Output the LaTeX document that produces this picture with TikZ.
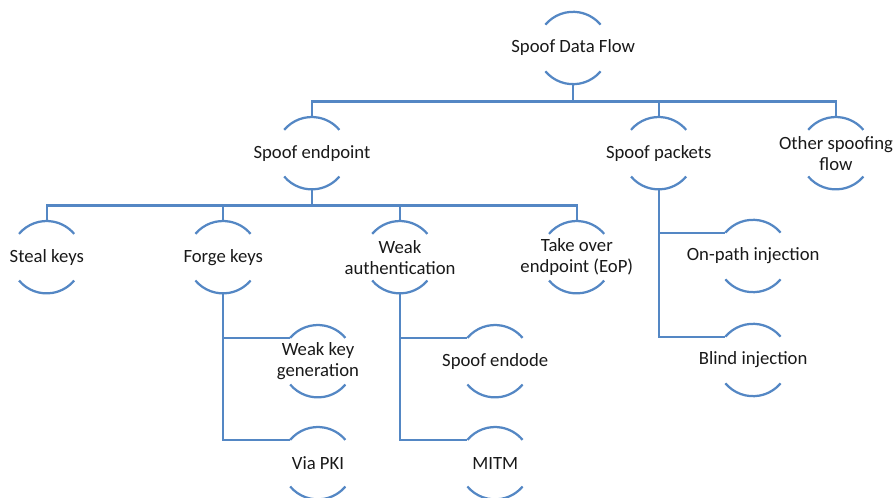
\documentclass[tikz,border=0pt]{standalone}
\usepackage{fontspec}
\setmainfont{Carlito}
\usepackage{tikz}

\definecolor{linkblue}{RGB}{84,135,196}
\definecolor{txtgray}{RGB}{25,25,25}

\tikzset{
  link/.style={draw=linkblue, line width=1.6pt},
  topic/.style={circle, minimum size=1.8cm, inner sep=0pt,
    label={[text=txtgray, align=center, inner sep=0pt,
      font=\fontsize{13.3}{15}\selectfont]center:#1}},
}

\begin{document}
\begin{tikzpicture}
\useasboundingbox (0,0) rectangle (22.4,-12.45);

% the topics
\node[topic={Spoof Data Flow}] (root) at (14.33,-1.20) {};
\node[topic={Spoof endpoint}] (endpoint) at (7.80,-3.83) {};
\node[topic={Spoof packets}] (packets) at (16.47,-3.83) {};
\node[topic={Other spoofing\\flow}] (other) at (20.90,-3.83) {};
\node[topic={Steal keys}] (steal) at (1.17,-6.43) {};
\node[topic={Forge keys}] (forge) at (5.58,-6.43) {};
\node[topic={Weak\\authentication}] (weakauth) at (10.00,-6.43) {};
\node[topic={Take over\\endpoint (EoP)}] (takeover) at (14.42,-6.43) {};
\node[topic={Weak key\\generation}] (weakkey) at (7.95,-9.03) {};
\node[topic={Via PKI}] (viapki) at (7.95,-11.58) {};
\node[topic={Spoof endode}] (endode) at (12.38,-9.03) {};
\node[topic={MITM}] (mitm) at (12.38,-11.58) {};
\node[topic={On-path injection}] (onpath) at (18.83,-6.40) {};
\node[topic={Blind injection}] (blind) at (18.83,-9.00) {};

% arcs above and below each topic
\foreach \n in {root,endpoint,packets,other,steal,forge,weakauth,takeover,
                weakkey,viapki,endode,mitm,onpath,blind}{
  \draw[link] (\n.140) arc (140:40:0.9cm);
  \draw[link] (\n.220) arc (220:320:0.9cm);
}

% first level
\foreach \c in {endpoint,packets,other}
  \draw[link] (root.south) -- ++(0,-0.43) -| (\c.north);

% second level
\foreach \c in {steal,forge,weakauth,takeover}
  \draw[link] (endpoint.south) -- ++(0,-0.40) -| (\c.north);

% side branches
\draw[link] (forge.south) |- (weakkey.140);
\draw[link] (forge.south) |- (viapki.140);
\draw[link] (weakauth.south) |- (endode.140);
\draw[link] (weakauth.south) |- (mitm.140);
\draw[link] (packets.south) |- (onpath.140);
\draw[link] (packets.south) |- (blind.140);
\end{tikzpicture}
\end{document}
